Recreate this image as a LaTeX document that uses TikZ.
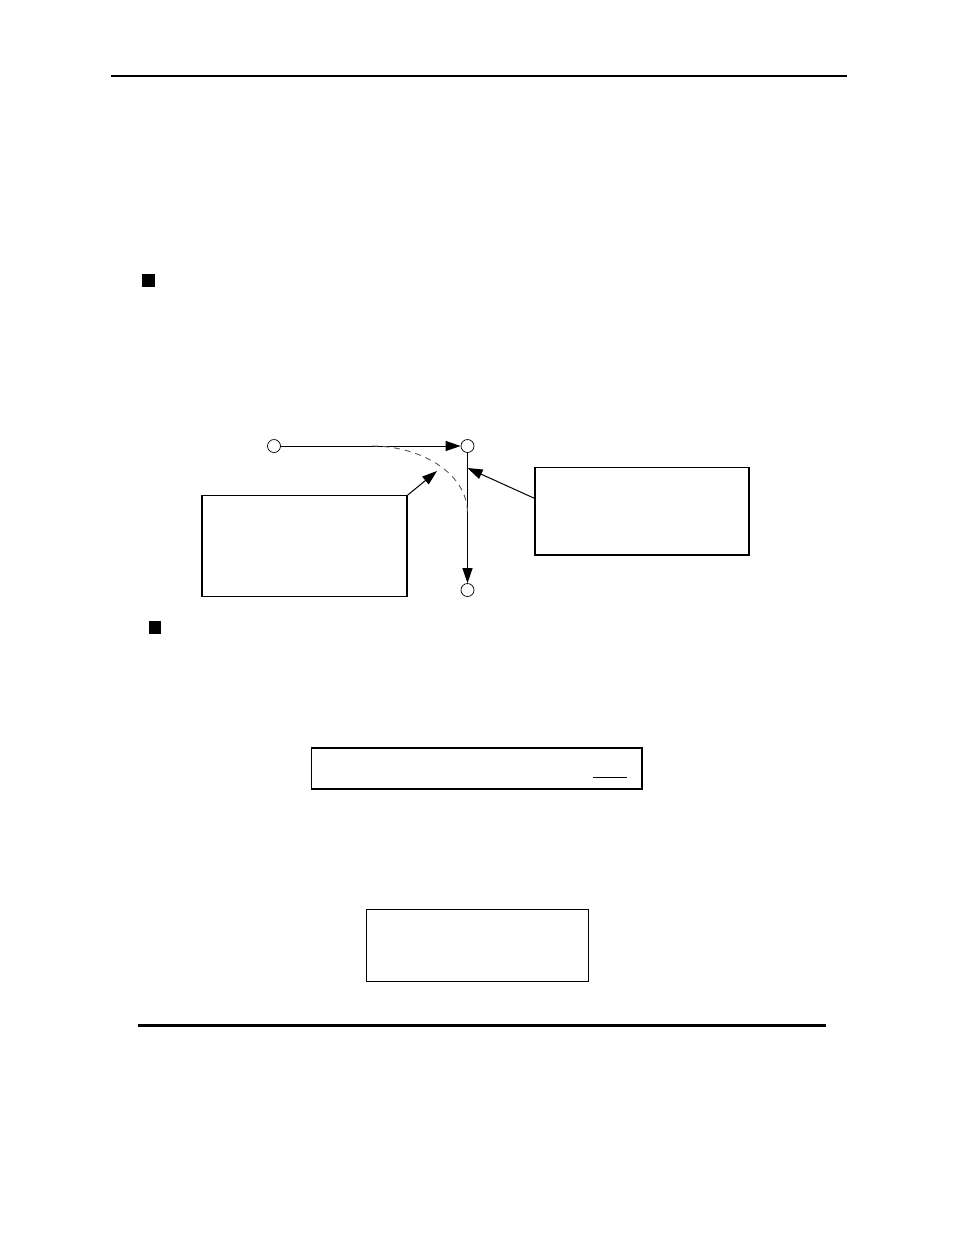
\documentclass[tikz,border=0pt]{standalone}
\usetikzlibrary{arrows.meta}
\begin{document}
\begin{tikzpicture}[x=1pt,y=-1pt,
  boxnode/.style={draw,line width=1.2pt,rectangle,inner sep=0pt},
  dot/.style={draw,circle,line width=0.7pt,minimum size=13pt,inner sep=0pt},
  arr/.style={line width=1pt,-{Triangle[length=15pt,width=10pt]}},
  bullet/.style={fill=black,draw=none},
  rulestyle/.style={line cap=butt}]
\useasboundingbox (0,0) rectangle (954,1235);
\fill[white] (0,0) rectangle (954,1235);
% rules
\coordinate (t1) at (111,75.7); \coordinate (t2) at (847,75.7);
\draw[rulestyle,line width=2.2pt] (t1) -- (t2);
\coordinate (u1) at (138,1025); \coordinate (u2) at (826,1025);
\draw[rulestyle,line width=3pt] (u1) -- (u2);
% bullets
\fill[bullet] (142,273.5) rectangle (154.5,287);
\fill[bullet] (149,620.5) rectangle (161,634);
% nodes
\node[dot] (a) at (274,446) {};
\node[dot] (b) at (467.5,446) {};
\node[dot] (c) at (467.5,590) {};
\node[boxnode,minimum width=205pt,minimum height=100.5pt] (lbox) at (304.5,546) {};
\node[boxnode,minimum width=214pt,minimum height=87.5pt] (rbox) at (642,511.3) {};
\node[boxnode,minimum width=330.5pt,minimum height=41pt] (mbox) at (476.75,768.5) {};
\node[boxnode,minimum width=222pt,minimum height=72.5pt] (dbox) at (477.5,945.5) {};
% connectors
\draw[arr] (a) -- (b);
\draw[arr] (b) -- (c);
\coordinate (arcpt) at (437,471);
\draw[arr] (lbox.north east) -- (arcpt);
\coordinate (vpt) at (467.5,468);
\draw[arr] ([yshift=13pt]rbox.west) -- (vpt);
% dashed arc
\coordinate (d1) at (372,446);
\coordinate (d2) at (467.5,513);
\draw[dashed,black!65,line width=0.9pt,dash pattern=on 6pt off 5pt] (d1) .. controls (422,446) and (467.5,474) .. (d2);
% underline in middle box
\coordinate (ul1) at (593,777); \coordinate (ul2) at (627,777);
\draw[line width=1pt] (ul1) -- (ul2);
\end{tikzpicture}
\end{document}
